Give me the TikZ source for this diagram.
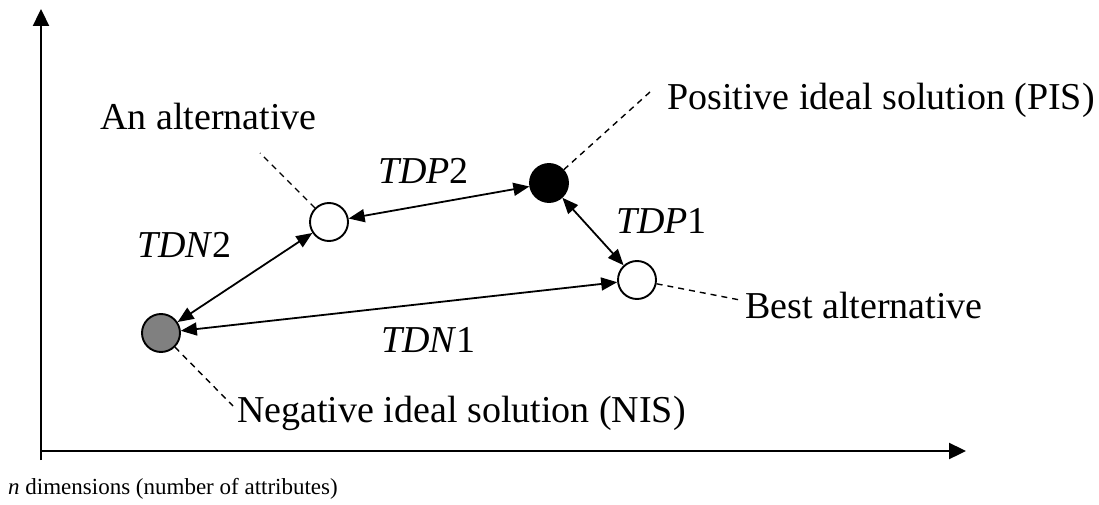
\documentclass[tikz,border=0pt]{standalone}
\usepackage{fontspec}
\setmainfont{Liberation Serif}
\usetikzlibrary{arrows.meta}
\tikzset{
  axis/.style={line width=2.3pt, -{Triangle[length=17pt,width=16pt]}},
  dist/.style={line width=1.8pt, {Triangle[length=16pt,width=13pt]}-{Triangle[length=16pt,width=13pt]}},
  leader/.style={line width=1.4pt, dash pattern=on 6pt off 5pt},
  pt/.style={circle, draw, line width=1.9pt, minimum size=38pt, inner sep=0pt},
  lbl/.style={inner sep=0pt, anchor=base west, font=\fontsize{38}{42}\selectfont},
  dlbl/.style={inner sep=0pt, anchor=base west, font=\fontsize{38}{42}\selectfont}
}
\begin{document}
\begin{tikzpicture}[x=1pt, y=-1pt]
\useasboundingbox (0,0) rectangle (1099,505);
% axes
\coordinate (ytip) at (41,9);
\coordinate (xtip) at (966,451);
\draw[axis] (41,460) -- (ytip);
\draw[axis] (40,451) -- (xtip);
% solution points
\node[pt, fill=white] (alt) at (329,222) {};
\node[pt, fill=black!50] (nis) at (161,333) {};
\node[pt, fill=black] (pis) at (549,183) {};
\node[pt, fill=white] (best) at (637,280) {};
% distances
\draw[dist] (alt) -- (pis);
\draw[dist] (pis) -- (best);
\draw[dist] (nis) -- (alt);
\draw[dist] (nis) -- (best);
% distance labels
\node[dlbl] (tdp2) at (378,183) {\textit{TDP}2};
\node[dlbl] (tdp1) at (616,233) {\textit{TDP}1};
\node[dlbl] (tdn2) at (137,257) {\textit{TDN}2};
\node[dlbl] (tdn1) at (381,352) {\textit{TDN}1};
% point labels
\node[lbl] (laltn) at (100,130) {An alternative};
\node[lbl] (lpis) at (667,110) {Positive ideal solution (PIS)};
\node[lbl] (lbest) at (745,318) {Best alternative};
\node[lbl] (lnis) at (237,422) {Negative ideal solution (NIS)};
% leaders
\coordinate (ca) at (260,153);
\coordinate (cp) at (650,92);
\coordinate (cb) at (740,300);
\coordinate (cn) at (233,406);
\draw[leader] (alt) -- (ca);
\draw[leader] (pis) -- (cp);
\draw[leader] (best) -- (cb);
\draw[leader] (nis) -- (cn);
% axis caption
\node[inner sep=0pt, anchor=base west, font=\fontsize{23}{26}\selectfont] (cap) at (8,494) {\textit{n} dimensions (number of attributes)};
\end{tikzpicture}
\end{document}
